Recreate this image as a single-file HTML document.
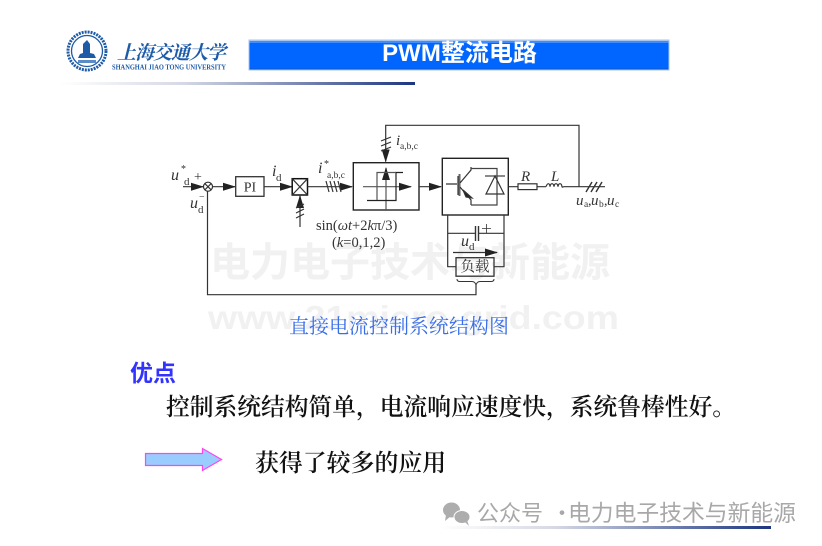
<!DOCTYPE html>
<html><head><meta charset="utf-8"><style>
html,body{margin:0;padding:0;background:#fff}
svg{display:block}
.s{font-family:"Liberation Serif","Noto Serif CJK SC",serif;fill:#333}
.i{font-style:italic}
</style></head><body>
<svg width="822" height="546" viewBox="0 0 822 546" xmlns="http://www.w3.org/2000/svg">
<defs>
<linearGradient id="g1" x1="0" x2="1" y1="0" y2="0"><stop offset="0" stop-color="#fff"/><stop offset="0.35" stop-color="#d5d8e4"/><stop offset="1" stop-color="#1c3580"/></linearGradient>
<marker id="a" markerWidth="14" markerHeight="9" refX="12" refY="4" orient="auto" markerUnits="userSpaceOnUse"><path d="M0 0L13 4L0 8Z" fill="#222"/></marker>
</defs>
<rect width="822" height="546" fill="#fff"/>

<!-- watermark -->
<text x="210" y="276" font-family="'Liberation Sans','Noto Sans CJK SC',sans-serif" font-weight="700" font-size="40" fill="#f1f1f1">电力电子技术与新能源</text>
<text x="208" y="329" font-family="'Liberation Sans',sans-serif" font-weight="700" font-size="33.5" fill="#f1f1f1" textLength="411" lengthAdjust="spacingAndGlyphs">www.21micro-grid.com</text>

<!-- rules -->
<rect x="60" y="82" width="355" height="3" fill="url(#g1)"/>
<rect x="440" y="526" width="331" height="3" fill="url(#g1)"/>

<!-- logo -->
<g fill="none" stroke="#1d5ba8">
<circle cx="87" cy="51" r="19" stroke-width="3" stroke-dasharray="2 1"/>
<circle cx="87" cy="51" r="15.5" stroke-width="1.3"/>
</g>
<path d="M78 58L96 58L94 54L90 53L90 44L87 40L83 44L83 53L80 54Z" fill="#1d5ba8"/>
<rect x="78" y="60" width="18" height="3" fill="#5b8cc6"/>
<text x="117" y="59" font-family="'Noto Serif CJK SC',serif" font-size="19" font-weight="700" font-style="italic" fill="#1d5ba8" textLength="109" lengthAdjust="spacing">上海交通大学</text>
<text x="112" y="69.5" font-family="'Liberation Serif',serif" font-size="7.4" font-weight="700" fill="#1d5ba8" textLength="114" lengthAdjust="spacingAndGlyphs">SHANGHAI JIAO TONG UNIVERSITY</text>

<!-- title -->
<rect x="248.5" y="39.5" width="421" height="31" fill="#a9c6ee"/>
<rect x="249.5" y="41" width="419" height="28.5" fill="#0066ff"/>
<rect x="249.5" y="41" width="419" height="2" fill="#3f8cff"/>
<rect x="249.5" y="68.5" width="419" height="1" fill="#0a55c8"/>
<text x="459.5" y="61" text-anchor="middle" font-family="'Liberation Sans','Noto Sans CJK SC',sans-serif" font-weight="700" font-size="24" fill="#fff">PWM整流电路</text>

<!-- diagram lines -->
<g fill="none" stroke="#333" stroke-width="1.2">
<path d="M183 186.7H203" marker-end="url(#a)"/>
<circle cx="208" cy="186.7" r="4.5"/>
<path d="M204.8 183.5L211.2 189.9M211.2 183.5L204.8 189.9"/>
<path d="M212.5 186.7H235" marker-end="url(#a)"/>
<rect x="235.7" y="176.7" width="28.3" height="19.6" stroke-width="1.3"/>
<path d="M264 186.7H292" marker-end="url(#a)"/>
<rect x="292.2" y="178.7" width="15.3" height="16.3" stroke="#111" stroke-width="1.5"/>
<path d="M292.2 178.7L307.5 195M307.5 178.7L292.2 195"/>
<path d="M300 227V196" marker-end="url(#a)"/>
<path d="M296 208L304 204M296 213L304 209M296 218L304 214"/>
<path d="M307.5 186.7H352" marker-end="url(#a)"/>
<path d="M326 181L329 192M330 181L333 192M334 181L337 192M338 181L341 192"/>
<rect x="353.3" y="162.7" width="65.7" height="47.3" stroke="#222" stroke-width="1.4"/>
<path d="M363 186.7H411" marker-end="url(#a)" stroke="#555"/>
<path d="M386 210V168" marker-end="url(#a)" stroke="#555"/>
<path d="M367 200.5H396V172.5H403" stroke="#222"/>
<path d="M377 200V172.5H396" stroke="#555"/>
<path d="M419 186.7H441" marker-end="url(#a)"/>
<rect x="442.3" y="158.3" width="66" height="56.7" stroke="#222" stroke-width="1.4"/>
<path d="M508.3 186.7H518M537 186.7H546"/>
<rect x="518" y="183.8" width="19" height="5.8"/>
<path d="M546 186.7c1.5-4 3.5-4 4 0c.5-4 3.5-4 4 0c.5-4 3.5-4 4 0c.5-4 3.5-4 4 0c.5 1 1 0 2 0H605"/>
<path d="M586 192L592 182M591 192L597 182M596 192L602 182" stroke-width="1.4"/>
<path d="M579 186.7V125.3H385.7V161.5" marker-end="url(#a)"/>
<path d="M381 146L391 142M381 141L391 137M381 151L391 147"/>
<!-- converter -->
<path d="M446 184H457M458 176V195" stroke-width="1.2"/>
<path d="M459.5 174V196" stroke-width="2" stroke="#666"/>
<path d="M460 183L471 170V167M460 187L471 200V205"/>
<path d="M463 190L472 198L466 197Z" fill="#222"/>
<path d="M471 168.5H497V205H471" stroke="#444"/>
<path d="M485 176H505" stroke="#444"/>
<path d="M495 176L486 194H504Z"/>
<!-- dc side -->
<path d="M447.7 215V266.7H456M504 215V266.7H494"/>
<path d="M447.7 233.3H475.5M478.5 233.3H504"/>
<path d="M475.5 226V241M478.5 226V241" stroke-width="1.4"/>
<path d="M482 228.5H491M486.5 224V233" stroke-width=".8"/>
<path d="M453 252.5H497" marker-end="url(#a)"/>
<rect x="456" y="257.7" width="38" height="18.5" stroke-width="1.3"/>
<path d="M457 279Q457 281.5 460 281.5H472Q475 281.5 476 285Q477 281.5 480 281.5H491Q494 281.5 494 279" stroke-width="1"/>
<path d="M207.5 191V294.7H476V285"/>
</g>

<!-- diagram labels -->
<g class="s" font-size="14">
<text x="171" y="180" class="s i" font-size="16">u</text><text x="181" y="172" font-size="10">*</text><text x="184" y="185" font-size="11">d</text>
<text x="194" y="181" font-size="14">+</text>
<text x="190" y="208" class="s i" font-size="16">u</text><text x="199" y="200" font-size="10">−</text><text x="198" y="213" font-size="11">d</text>
<text x="250" y="191.5" text-anchor="middle" font-size="14">PI</text>
<text x="272" y="176" class="s i" font-size="16">i</text><text x="276" y="181" font-size="11">d</text>
<text x="318" y="173" class="s i" font-size="16">i</text><text x="324" y="167" font-size="10">*</text><text x="327" y="178" font-size="9.5">a,b,c</text>
<text x="396" y="145" class="s i" font-size="15">i</text><text x="400" y="149" font-size="9.5">a,b,c</text>
<text x="521" y="181" class="s i" font-size="15">R</text>
<text x="551" y="181" class="s i" font-size="15">L</text>
<text x="576" y="205" class="s i" font-size="15">u</text><text x="584" y="207" font-size="9.5">a</text><text x="588" y="205" font-size="14">,</text>
<text x="591" y="205" class="s i" font-size="15">u</text><text x="599" y="207" font-size="9.5">b</text><text x="604" y="205" font-size="14">,</text>
<text x="607" y="205" class="s i" font-size="15">u</text><text x="615" y="207" font-size="9.5">c</text>
<text x="316" y="230" font-size="14.5">sin(<tspan font-style="italic">ωt</tspan>+2<tspan font-style="italic">k</tspan>π/3)</text>
<text x="332" y="247" font-size="14.5">(<tspan font-style="italic">k</tspan>=0,1,2)</text>
<text x="461" y="246" class="s i" font-size="16">u</text><text x="469" y="250" font-size="11">d</text>
<text x="475" y="271.5" text-anchor="middle" font-size="14.5" font-family="'Noto Serif CJK SC',serif">负载</text>
</g>

<text x="289" y="333" font-family="'Noto Serif CJK SC',serif" font-size="20" fill="#3a6ee8">直接电流控制系统结构图</text>

<!-- body -->
<text x="130" y="381" font-family="'Noto Sans CJK SC',sans-serif" font-weight="700" font-size="23" fill="#3333ff">优点</text>
<text x="166" y="415" font-family="'Noto Serif CJK SC',serif" font-weight="600" font-size="23.75" fill="#111">控制系统结构简单，电流响应速度快，系统鲁棒性好。</text>
<path d="M145.5 453.5H202.5V448.5L221.5 459.5L202.5 470.5V465.5H145.5Z" fill="#99ccff" stroke="#ff44ee" stroke-width="1.2"/>
<text x="255" y="471" font-family="'Noto Serif CJK SC',serif" font-weight="600" font-size="23.9" fill="#111">获得了较多的应用</text>

<!-- footer -->
<ellipse cx="451.5" cy="510" rx="8.5" ry="7.5" fill="#adadad"/>
<path d="M446 515L445 521L451 516Z" fill="#adadad"/>
<ellipse cx="462" cy="517" rx="8" ry="6.5" fill="#adadad" stroke="#fff" stroke-width="1"/>
<path d="M465 522L469 526L467 520Z" fill="#adadad"/>
<text x="477" y="521" font-family="'Noto Sans CJK SC',sans-serif" font-size="22" fill="#a8a8a8">公众号</text>
<text x="551" y="521" font-family="'Noto Sans CJK SC',sans-serif" font-size="22" fill="#a8a8a8">·</text>
<text x="568" y="521" font-family="'Noto Sans CJK SC',sans-serif" font-size="22.8" fill="#a8a8a8">电力电子技术与新能源</text>
</svg>
</body></html>
